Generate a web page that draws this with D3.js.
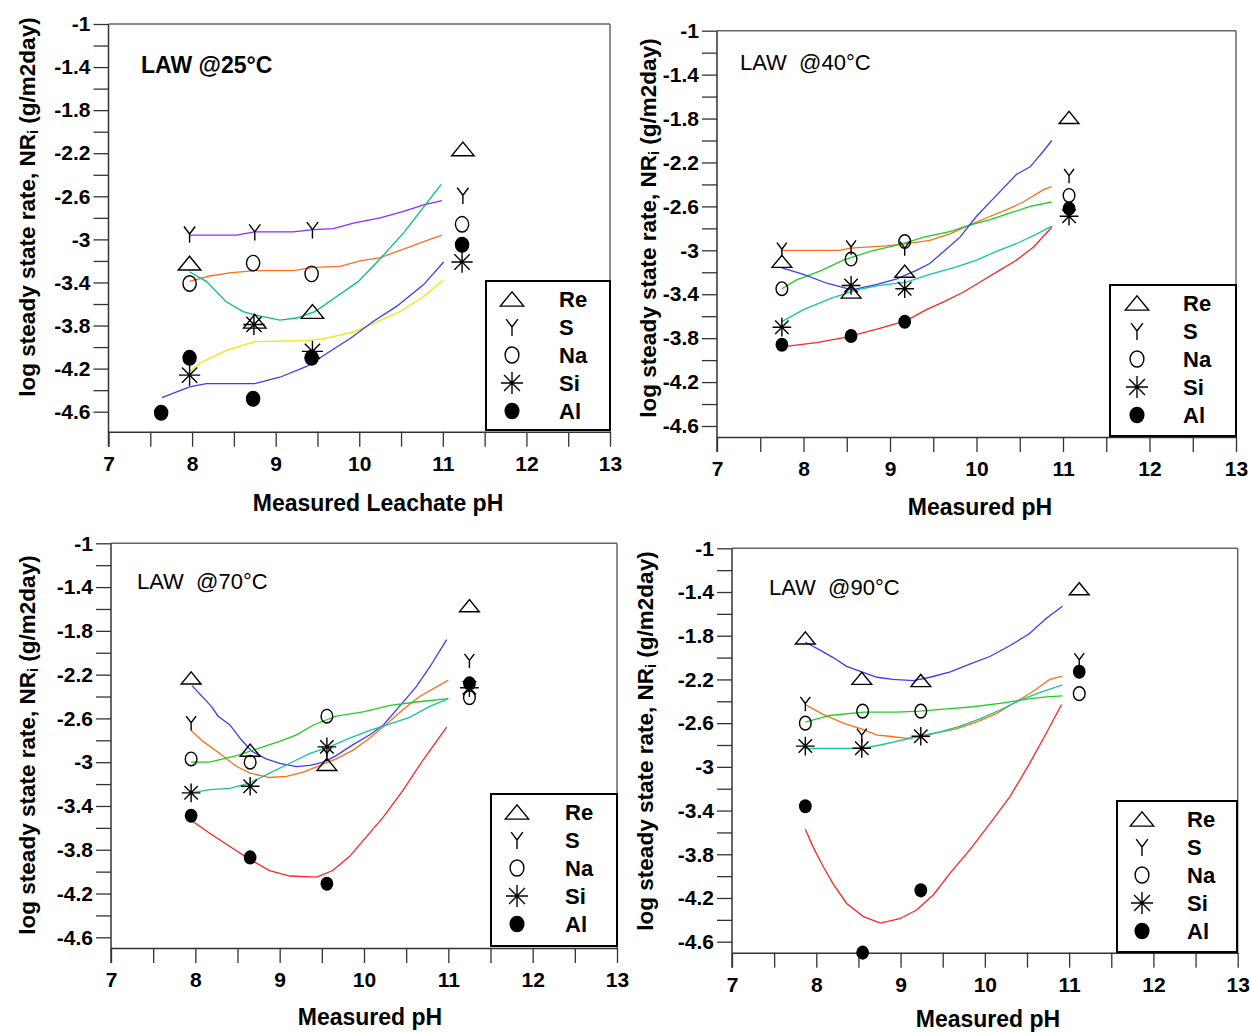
<!DOCTYPE html>
<html><head><meta charset="utf-8">
<script src="https://cdn.jsdelivr.net/npm/d3@7"></script>
<style>
html,body{margin:0;padding:0;background:#fff;}
svg{display:block;font-family:"Liberation Sans",Arial,sans-serif;}
</style></head>
<body><svg id="chart" width="1251" height="1033"></svg>
<script>
// ---------- DATA ----------
const seriesNames = ["Re","S","Na","Si","Al"];
const xTickValues = [7,7.5,8,8.5,9,9.5,10,10.5,11,11.5,12,12.5,13];
const yTickValues = [-1,-1.2,-1.4,-1.6,-1.8,-2,-2.2,-2.4,-2.6,-2.8,-3,-3.2,-3.4,-3.6,-3.8,-4,-4.2,-4.4,-4.6];
const yLabelValues = [-1,-1.4,-1.8,-2.2,-2.6,-3,-3.4,-3.8,-4.2,-4.6];
const xLabelValues = [7,8,9,10,11,12,13];
const panelTitles = ["LAW @25°C","LAW  @40°C","LAW  @70°C","LAW  @90°C"];
const xAxisTitles = ["Measured Leachate pH","Measured pH","Measured pH","Measured pH"];

// 25 C measured points
const p25_Re_x = [7.97, 8.75, 9.44, 11.24], p25_Re_y = [-3.22, -3.76, -3.67, -2.16];
const p25_S_x  = [7.97, 8.75, 9.44, 11.24], p25_S_y  = [-2.95, -2.93, -2.91, -2.59];
const p25_Na_x = [7.97, 8.73, 9.43, 11.23], p25_Na_y = [-3.41, -3.22, -3.32, -2.86];
const p25_Si_x = [7.97, 8.74, 9.44, 11.23], p25_Si_y = [-4.26, -3.79, -4.04, -3.21];
const p25_Al_x = [7.63, 7.97, 8.73, 9.43, 11.23], p25_Al_y = [-4.61, -4.10, -4.48, -4.10, -3.05];
// 25 C model lines
const p25_lS_x  = [7.97,8.53,8.75,9.21,9.45,9.69,9.93,10.25,10.53,10.77,10.99];
const p25_lS_y  = [-2.96,-2.96,-2.93,-2.93,-2.91,-2.90,-2.85,-2.80,-2.74,-2.68,-2.64];
const p25_lNa_x = [7.97,8.21,8.45,8.75,9.21,9.45,9.77,10.01,10.25,10.53,10.77,10.99];
const p25_lNa_y = [-3.39,-3.34,-3.31,-3.29,-3.29,-3.26,-3.25,-3.20,-3.17,-3.09,-3.02,-2.96];
const p25_lRe_x = [7.97,8.17,8.41,8.61,8.75,9.05,9.25,9.47,9.73,9.99,10.25,10.53,10.77,10.98];
const p25_lRe_y = [-3.30,-3.39,-3.58,-3.67,-3.70,-3.75,-3.73,-3.67,-3.53,-3.39,-3.18,-2.94,-2.70,-2.49];
const p25_lSi_x = [7.97,8.09,8.41,8.75,9.37,9.59,9.93,10.17,10.49,10.77,11.0];
const p25_lSi_y = [-4.23,-4.15,-4.03,-3.95,-3.94,-3.92,-3.86,-3.78,-3.67,-3.53,-3.38];
const p25_lAl_x = [7.64,7.97,8.17,8.75,9.05,9.37,9.61,9.89,10.17,10.45,10.77,11.01];
const p25_lAl_y = [-4.47,-4.37,-4.34,-4.34,-4.28,-4.18,-4.06,-3.92,-3.76,-3.62,-3.42,-3.21];

// 40 C measured points
const p40_Re_x = [7.75, 8.55, 9.17, 11.07], p40_Re_y = [-3.10, -3.38, -3.19, -1.79];
const p40_S_x  = [7.75, 8.55, 9.17, 11.07], p40_S_y  = [-2.99, -2.97, -2.98, -2.32];
const p40_Na_x = [7.75, 8.55, 9.17, 11.07], p40_Na_y = [-3.35, -3.08, -2.92, -2.50];
const p40_Si_x = [7.75, 8.55, 9.17, 11.07], p40_Si_y = [-3.70, -3.32, -3.35, -2.69];
const p40_Al_x = [7.75, 8.55, 9.17, 11.07], p40_Al_y = [-3.86, -3.78, -3.65, -2.62];
// 40 C model lines
const p40_lS_x  = [7.75,8.42,8.54,8.96,9.19,9.46,9.69,9.92,10.16,10.35,10.54,10.77,10.87];
const p40_lS_y  = [-3.0,-3.0,-2.98,-2.96,-2.94,-2.91,-2.85,-2.77,-2.69,-2.63,-2.56,-2.45,-2.42];
const p40_lNa_x = [7.75,7.92,8.19,8.46,8.77,9.15,9.39,9.69,9.92,10.16,10.39,10.62,10.87];
const p40_lNa_y = [-3.35,-3.27,-3.19,-3.09,-3.01,-2.94,-2.88,-2.83,-2.77,-2.72,-2.66,-2.60,-2.56];
const p40_lRe_x = [7.75,8.0,8.27,8.56,8.85,9.08,9.31,9.46,9.62,9.81,10.0,10.23,10.46,10.62,10.77,10.87];
const p40_lRe_y = [-3.16,-3.22,-3.30,-3.36,-3.31,-3.26,-3.18,-3.12,-3.01,-2.88,-2.69,-2.50,-2.31,-2.24,-2.10,-2.0];
const p40_lSi_x = [7.75,8.0,8.31,8.61,8.88,9.19,9.46,9.77,10.0,10.23,10.46,10.70,10.87];
const p40_lSi_y = [-3.65,-3.54,-3.44,-3.36,-3.32,-3.29,-3.22,-3.15,-3.09,-3.01,-2.94,-2.85,-2.78];
const p40_lAl_x = [7.75,8.15,8.5,8.88,9.19,9.42,9.62,9.85,10.08,10.27,10.46,10.66,10.87];
const p40_lAl_y = [-3.88,-3.84,-3.79,-3.71,-3.64,-3.54,-3.47,-3.38,-3.27,-3.18,-3.09,-2.97,-2.79];

// 70 C measured points
const p70_Re_x = [7.95, 8.65, 9.56, 11.25], p70_Re_y = [-2.23, -2.89, -3.02, -1.57];
const p70_S_x  = [7.95, 9.56, 11.25],       p70_S_y  = [-2.64, -2.92, -2.07];
const p70_Na_x = [7.95, 8.65, 9.56, 11.25], p70_Na_y = [-2.97, -3.00, -2.58, -2.41];
const p70_Si_x = [7.95, 8.65, 9.56, 11.25], p70_Si_y = [-3.28, -3.22, -2.86, -2.32];
const p70_Al_x = [7.95, 8.65, 9.56, 11.25], p70_Al_y = [-3.49, -3.87, -4.11, -2.28];
// 70 C model lines
const p70_lRe_x = [7.96,8.19,8.27,8.41,8.55,8.67,8.84,9.0,9.20,9.36,9.52,9.67,9.87,10.07,10.23,10.42,10.62,10.78,10.98];
const p70_lRe_y = [-2.30,-2.49,-2.58,-2.66,-2.80,-2.90,-2.97,-3.01,-3.04,-3.03,-3.0,-2.94,-2.84,-2.75,-2.66,-2.49,-2.31,-2.13,-1.88];
const p70_lS_x  = [7.95,8.09,8.29,8.49,8.65,8.88,9.08,9.28,9.48,9.67,9.87,10.07,10.27,10.46,10.66,11.0];
const p70_lS_y  = [-2.71,-2.81,-2.92,-3.04,-3.10,-3.14,-3.13,-3.09,-3.03,-2.97,-2.89,-2.78,-2.65,-2.52,-2.40,-2.25];
const p70_lNa_x = [7.95,8.17,8.49,8.80,9.0,9.20,9.40,9.67,9.99,10.31,10.62,11.0];
const p70_lNa_y = [-3.0,-3.0,-2.94,-2.86,-2.81,-2.75,-2.66,-2.58,-2.54,-2.48,-2.45,-2.42];
const p70_lSi_x = [7.95,8.17,8.41,8.65,8.88,9.12,9.36,9.59,9.83,10.07,10.31,10.54,10.78,11.0];
const p70_lSi_y = [-3.28,-3.25,-3.24,-3.19,-3.10,-3.01,-2.92,-2.86,-2.78,-2.71,-2.65,-2.59,-2.49,-2.42];
const p70_lAl_x = [7.95,8.17,8.41,8.65,8.88,9.12,9.44,9.63,9.83,10.03,10.23,10.46,10.70,10.98];
const p70_lAl_y = [-3.53,-3.65,-3.77,-3.89,-3.99,-4.04,-4.05,-3.99,-3.86,-3.68,-3.50,-3.26,-2.98,-2.68];

// 90 C measured points
const p90_Re_x = [7.87, 8.54, 9.24, 11.12], p90_Re_y = [-1.82, -2.19, -2.21, -1.37];
const p90_S_x  = [7.87, 8.54, 11.12],       p90_S_y  = [-2.42, -2.71, -2.02];
const p90_Na_x = [7.87, 8.55, 9.24, 11.12], p90_Na_y = [-2.60, -2.49, -2.49, -2.33];
const p90_Si_x = [7.87, 8.54, 9.24],        p90_Si_y = [-2.81, -2.83, -2.72];
const p90_Al_x = [7.87, 8.55, 9.24, 11.12], p90_Al_y = [-3.36, -4.70, -4.13, -2.13];
// 90 C model lines
const p90_lRe_x = [7.87,8.04,8.20,8.36,8.54,8.72,8.91,9.15,9.35,9.59,9.82,10.06,10.30,10.53,10.73,10.92];
const p90_lRe_y = [-1.86,-1.93,-2.0,-2.08,-2.13,-2.18,-2.20,-2.21,-2.18,-2.13,-2.06,-1.99,-1.89,-1.78,-1.64,-1.53];
const p90_lS_x  = [7.87,8.08,8.32,8.56,8.72,8.87,9.07,9.23,9.43,9.67,9.90,10.14,10.38,10.57,10.77,10.92];
const p90_lS_y  = [-2.43,-2.52,-2.60,-2.66,-2.71,-2.72,-2.74,-2.72,-2.69,-2.65,-2.59,-2.51,-2.40,-2.31,-2.20,-2.17];
const p90_lNa_x = [7.87,8.16,8.56,8.95,9.23,9.55,9.86,10.18,10.50,10.73,10.92];
const p90_lNa_y = [-2.59,-2.53,-2.50,-2.50,-2.49,-2.47,-2.45,-2.42,-2.38,-2.36,-2.35];
const p90_lSi_x = [7.87,8.54,8.76,8.99,9.23,9.47,9.70,9.94,10.18,10.42,10.65,10.92];
const p90_lSi_y = [-2.83,-2.83,-2.80,-2.76,-2.72,-2.68,-2.63,-2.56,-2.48,-2.39,-2.32,-2.25];
const p90_lAl_x = [7.87,7.96,8.08,8.20,8.36,8.56,8.76,8.99,9.19,9.39,9.59,9.82,10.06,10.30,10.53,10.73,10.91];
const p90_lAl_y = [-3.57,-3.73,-3.91,-4.07,-4.25,-4.37,-4.43,-4.39,-4.31,-4.17,-3.97,-3.76,-3.52,-3.27,-2.97,-2.69,-2.43];

// ---------- STYLE / LAYOUT ----------
const C = {blue:"#3b3bff", purple:"#8a2cff", orange:"#ff6e1a", green:"#22cc22", teal:"#14c896", teal25:"#00c088", red:"#ff2424", yellow:"#f0e800"};
const markerTypes = {Re:"tri", S:"y", Na:"circle", Si:"star", Al:"dot"};

const panels = [
  {x7:108.5, x13:610, top:24, y46:411.7, bottom:431.7, ms:1.25, titleBold:true,
   title:{x:141,y:65}, xt:{x:378,y:503}, yt:{x:27,y:207}, leg:{x:486,y:281,w:124,h:149,sx:26,lx:73},
   pts:[[p25_Re_x,p25_Re_y],[p25_S_x,p25_S_y],[p25_Na_x,p25_Na_y],[p25_Si_x,p25_Si_y],[p25_Al_x,p25_Al_y]],
   lines:[[p25_lS_x,p25_lS_y,C.purple],[p25_lNa_x,p25_lNa_y,C.orange],[p25_lRe_x,p25_lRe_y,C.teal25],[p25_lSi_x,p25_lSi_y,C.yellow],[p25_lAl_x,p25_lAl_y,C.blue]]},
  {x7:717, x13:1236, top:30.7, y46:426, bottom:437, ms:1.1, titleBold:false,
   title:{x:740,y:62}, xt:{x:980,y:507}, yt:{x:648,y:228}, leg:{x:1110,y:285,w:126,h:151,sx:27,lx:73},
   pts:[[p40_Re_x,p40_Re_y],[p40_S_x,p40_S_y],[p40_Na_x,p40_Na_y],[p40_Si_x,p40_Si_y],[p40_Al_x,p40_Al_y]],
   lines:[[p40_lS_x,p40_lS_y,C.orange],[p40_lNa_x,p40_lNa_y,C.green],[p40_lRe_x,p40_lRe_y,C.blue],[p40_lSi_x,p40_lSi_y,C.teal],[p40_lAl_x,p40_lAl_y,C.red]]},
  {x7:111, x13:617, top:543.3, y46:937.3, bottom:948, ms:1.1, titleBold:false,
   title:{x:137,y:581}, xt:{x:370,y:1017}, yt:{x:27,y:745}, leg:{x:491,y:794,w:126,h:152,sx:26,lx:74},
   pts:[[p70_Re_x,p70_Re_y],[p70_S_x,p70_S_y],[p70_Na_x,p70_Na_y],[p70_Si_x,p70_Si_y],[p70_Al_x,p70_Al_y]],
   lines:[[p70_lRe_x,p70_lRe_y,C.blue],[p70_lS_x,p70_lS_y,C.orange],[p70_lNa_x,p70_lNa_y,C.green],[p70_lSi_x,p70_lSi_y,C.teal],[p70_lAl_x,p70_lAl_y,C.red]]},
  {x7:732, x13:1237.7, top:548.3, y46:941.7, bottom:952.7, ms:1.1, titleBold:false,
   title:{x:769,y:587}, xt:{x:988,y:1019}, yt:{x:645,y:741}, leg:{x:1117,y:801,w:120,h:151,sx:25,lx:70},
   pts:[[p90_Re_x,p90_Re_y],[p90_S_x,p90_S_y],[p90_Na_x,p90_Na_y],[p90_Si_x,p90_Si_y],[p90_Al_x,p90_Al_y]],
   lines:[[p90_lRe_x,p90_lRe_y,C.blue],[p90_lS_x,p90_lS_y,C.orange],[p90_lNa_x,p90_lNa_y,C.green],[p90_lSi_x,p90_lSi_y,C.teal],[p90_lAl_x,p90_lAl_y,C.red]]}
];

const svg = d3.select("#chart");

function marker(g, type, cx, cy, s) {
  const sw = 1.4;
  if (type === "tri") {
    g.append("path").attr("d", `M${cx-9*s},${cy+5.5*s}L${cx+9*s},${cy+5.5*s}L${cx},${cy-5.5*s}Z`)
      .attr("fill","none").attr("stroke","#000").attr("stroke-width",sw);
  } else if (type === "y") {
    g.append("path").attr("d", `M${cx-4.5*s},${cy-6*s}L${cx},${cy}L${cx+4.5*s},${cy-6*s}M${cx},${cy}L${cx},${cy+7*s}`)
      .attr("fill","none").attr("stroke","#000").attr("stroke-width",sw);
  } else if (type === "circle") {
    g.append("ellipse").attr("cx",cx).attr("cy",cy).attr("rx",5.3*s).attr("ry",6.2*s)
      .attr("fill","none").attr("stroke","#000").attr("stroke-width",sw);
  } else if (type === "star") {
    const r = 8.5*s, d = r*0.72;
    g.append("path").attr("d",
      `M${cx},${cy-r}L${cx},${cy+r}M${cx-r},${cy}L${cx+r},${cy}M${cx-d},${cy-d}L${cx+d},${cy+d}M${cx-d},${cy+d}L${cx+d},${cy-d}`)
      .attr("fill","none").attr("stroke","#000").attr("stroke-width",sw);
  } else if (type === "dot") {
    g.append("ellipse").attr("cx",cx).attr("cy",cy).attr("rx",5.8*s).attr("ry",6.4*s).attr("fill","#000");
  }
}

panels.forEach((p, i) => {
  const g = svg.append("g");
  const x = d3.scaleLinear().domain([7,13]).range([p.x7, p.x13]);
  const y = d3.scaleLinear().domain([-1,-4.6]).range([p.top, p.y46]);

  // frame (top and right)
  g.append("line").attr("x1",p.x7).attr("x2",p.x13).attr("y1",p.top).attr("y2",p.top).attr("stroke","#666").attr("stroke-width",1.5);
  g.append("line").attr("x1",p.x13).attr("x2",p.x13).attr("y1",p.top).attr("y2",p.bottom).attr("stroke","#666").attr("stroke-width",1.5);

  // x axis
  const xa = g.append("g").attr("transform",`translate(0,${p.bottom})`)
    .call(d3.axisBottom(x).tickValues(xTickValues).tickSize(15).tickSizeOuter(0).tickPadding(9)
      .tickFormat(d => xLabelValues.includes(d) ? String(d) : ""));
  // y axis
  const ya = g.append("g").attr("transform",`translate(${p.x7},0)`)
    .call(d3.axisLeft(y).tickValues(yTickValues).tickSize(15).tickSizeOuter(0).tickPadding(3)
      .tickFormat(d => yLabelValues.some(v => Math.abs(v-d)<1e-9) ? String(+d.toFixed(1)) : ""));
  ya.select(".domain").remove();
  g.append("line").attr("x1",p.x7).attr("x2",p.x7).attr("y1",p.top).attr("y2",p.bottom+15).attr("stroke","#333").attr("stroke-width",1.5);
  [xa, ya].forEach(a => {
    a.selectAll(".domain").attr("stroke","#333").attr("stroke-width",1.5);
    a.selectAll(".tick line").attr("stroke","#333").attr("stroke-width",1.3);
    a.selectAll(".tick text").attr("fill","#000").attr("font-size",21).attr("font-weight","bold")
      .attr("font-family",'"Liberation Sans",Arial,sans-serif');
  });

  // model lines
  const line = d3.line().x(d => x(d[0])).y(d => y(d[1]));
  p.lines.forEach(([xs, ys, col]) => {
    g.append("path").datum(xs.map((v,k) => [v, ys[k]])).attr("d", line)
      .attr("fill","none").attr("stroke",col).attr("stroke-width",1.3);
  });

  // measured points
  p.pts.forEach(([xs, ys], k) => {
    const t = markerTypes[seriesNames[k]];
    xs.forEach((v, j) => marker(g, t, x(v), y(ys[j]), p.ms));
  });

  // panel title
  g.append("text").attr("x",p.title.x).attr("y",p.title.y).attr("dominant-baseline","central")
    .attr("font-size",p.titleBold ? 23 : 22).attr("font-weight",p.titleBold ? "bold" : "normal").attr("xml:space","preserve")
    .style("white-space","pre").text(panelTitles[i]);

  // axis titles
  g.append("text").attr("x",p.xt.x).attr("y",p.xt.y).attr("text-anchor","middle").attr("dominant-baseline","central")
    .attr("font-size",23).attr("font-weight","bold").text(xAxisTitles[i]);
  const yt = g.append("text").attr("transform",`translate(${p.yt.x},${p.yt.y}) rotate(-90)`)
    .attr("text-anchor","middle").attr("dominant-baseline","central").attr("font-size",22.5).attr("font-weight","bold");
  yt.append("tspan").text("log steady state rate, NR");
  yt.append("tspan").attr("font-size",15).attr("dy",5).text("i");
  yt.append("tspan").attr("dy",-5).text(" (g/m2day)");

  // legend
  const L = p.leg;
  g.append("rect").attr("x",L.x).attr("y",L.y).attr("width",L.w).attr("height",L.h)
    .attr("fill","#fff").attr("stroke","#000").attr("stroke-width",2);
  seriesNames.forEach((nm, k) => {
    const ry = L.y + 18 + k*28;
    marker(g, markerTypes[nm], L.x + L.sx, ry, 1.3);
    g.append("text").attr("x",L.x + L.lx).attr("y",ry).attr("dominant-baseline","central")
      .attr("font-size",22).attr("font-weight","bold").text(nm);
  });
});
</script></body></html>
